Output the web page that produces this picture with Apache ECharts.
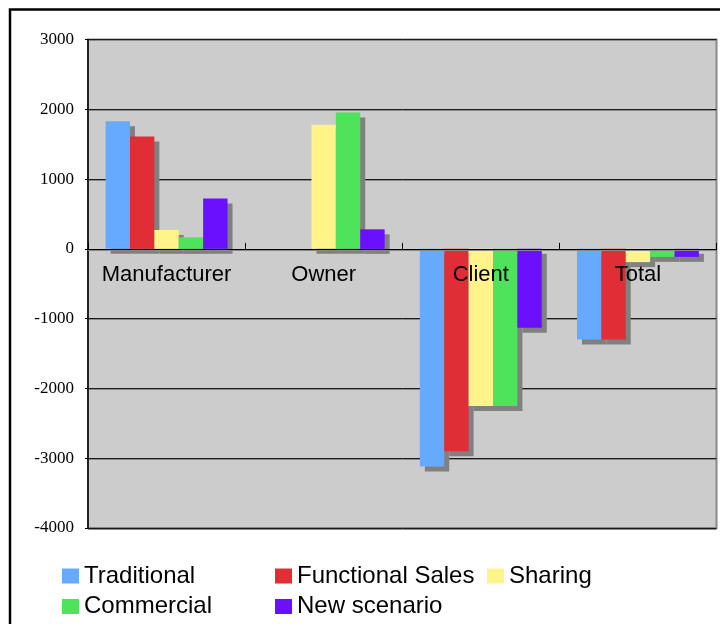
<!DOCTYPE html>
<html>
<head>
<meta charset="utf-8">
<script src="https://cdn.jsdelivr.net/npm/echarts@6/dist/echarts.min.js"></script>
<style>
  html, body { margin: 0; padding: 0; background: #ffffff; }
  #chart { width: 720px; height: 624px; }
</style>
</head>
<body>
<div id="chart"></div>
<script>
// Categories along the x axis
const categories = ['Manufacturer', 'Owner', 'Client', 'Total'];

// Scenario values per category
const traditional     = [1830, null, -3120, -1300];
const functionalSales = [1610, null, -2900, -1300];
const sharing         = [270, 1780, -2250, -190];
const commercial      = [165, 1955, -2250, -115];
const newScenario     = [720, 280, -1130, -115];

const seriesNames  = ['Traditional', 'Functional Sales', 'Sharing', 'Commercial', 'New scenario'];
const seriesValues = [traditional, functionalSales, sharing, commercial, newScenario];
const seriesColors = ['#66aaff', '#e02d36', '#fff38a', '#4ee35a', '#6a10ff'];

// Value axis
const yMin = -4000, yMax = 3000, yStep = 1000;

// Plot box (pixels)
const plotTop = 39.5, plotBottom = 96, chartHeight = 624;
const plotHeight = chartHeight - plotTop - plotBottom;
// Pull the category axis up onto the zero line
const zeroShift = plotHeight * (0 - yMin) / (yMax - yMin);

const chart = echarts.init(document.getElementById('chart'), null, { renderer: 'canvas' });

const sansFont = '"Liberation Sans", Arial, sans-serif';
const serifFont = '"Liberation Serif", "Times New Roman", serif';

// Legend laid out as a two-row grid of single-entry legends
const legendSlots = [
  { left: 62,  top: 564 },
  { left: 275, top: 564 },
  { left: 487, top: 564 },
  { left: 62,  top: 594.5 },
  { left: 275, top: 594.5 }
];

const legends = seriesNames.map((name, i) => ({
  data: [name],
  left: legendSlots[i].left,
  top: legendSlots[i].top,
  padding: 0,
  icon: 'rect',
  itemWidth: 17,
  itemHeight: 15,
  itemGap: 0,
  selectedMode: false,
  textStyle: { fontFamily: sansFont, fontSize: 24, color: '#000' }
}));

const series = seriesNames.map((name, i) => ({
  name: name,
  type: 'bar',
  data: seriesValues[i],
  barGap: '0%',
  barCategoryGap: '22.4%',
  itemStyle: {
    color: seriesColors[i],
    shadowColor: '#808080',
    shadowBlur: 0,
    shadowOffsetX: 5,
    shadowOffsetY: 5
  },
  emphasis: { disabled: true },
  animation: false
}));

chart.setOption({
  animation: false,
  backgroundColor: '#ffffff',
  graphic: [{
    type: 'rect',
    shape: { x: 10, y: 9.5, width: 800, height: 700 },
    style: { fill: 'none', stroke: '#000', lineWidth: 2.5 },
    z: 100
  }],
  grid: {
    left: 88,
    top: plotTop,
    right: 3.5,
    bottom: plotBottom,
    show: true,
    backgroundColor: '#cccccc',
    borderColor: '#888888',
    borderWidth: 2
  },
  legend: legends,
  xAxis: {
    type: 'category',
    data: categories,
    z: 5,
    offset: -zeroShift,
    axisLine: { show: true, onZero: false, lineStyle: { color: '#000', width: 1.2, shadowColor: '#888', shadowOffsetY: 1, shadowBlur: 0 } },
    axisTick: { show: true, inside: true, length: 6, interval: 0, alignWithLabel: false, lineStyle: { color: '#000' } },
    axisLabel: { margin: 15, interval: 0, hideOverlap: false, fontFamily: sansFont, fontSize: 22, color: '#000' },
    splitLine: { show: false }
  },
  yAxis: {
    type: 'value',
    min: yMin,
    max: yMax,
    interval: yStep,
    axisLine: { show: true, lineStyle: { color: '#000', width: 1.5 } },
    axisTick: { show: true, inside: false, length: 3, lineStyle: { color: '#000' } },
    axisLabel: { margin: 14, fontFamily: serifFont, fontSize: 17, color: '#000', formatter: v => String(v) },
    splitLine: { show: true, lineStyle: { color: '#1a1a1a', width: 1, shadowColor: '#8a8a8a', shadowOffsetY: 1, shadowBlur: 0 } }
  },
  series: series
});
</script>
</body>
</html>
